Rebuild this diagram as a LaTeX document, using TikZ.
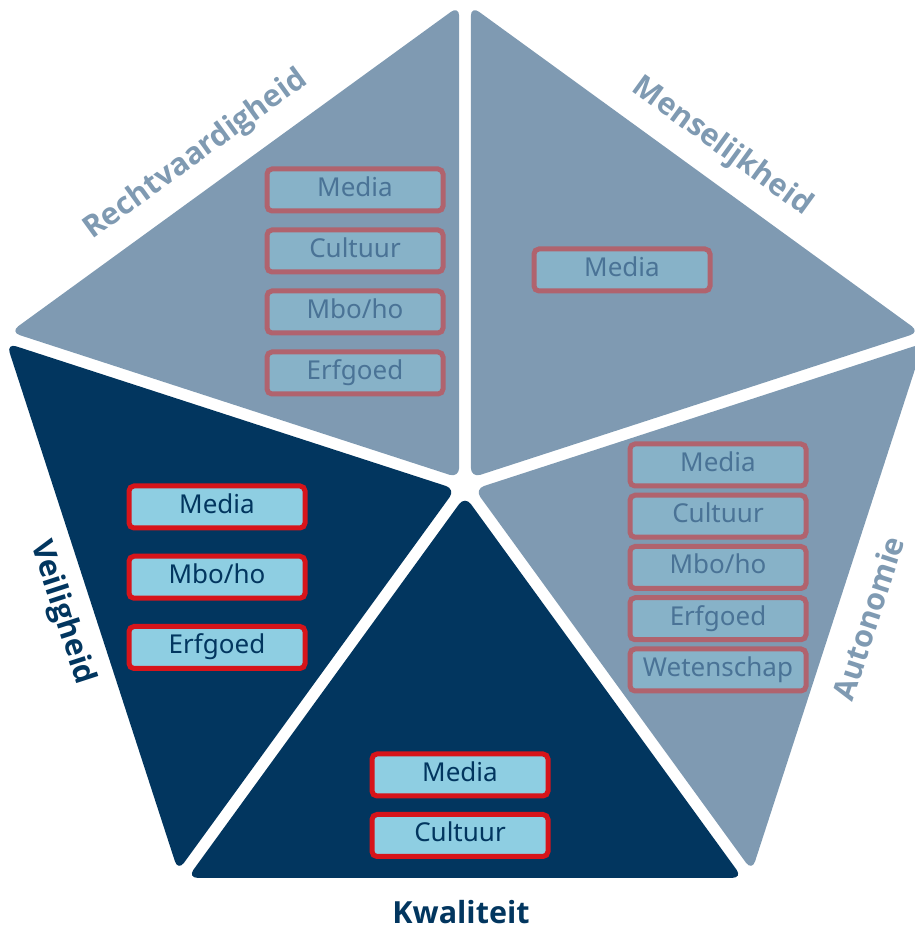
\documentclass[tikz,border=0pt]{standalone}
\usepackage{fontspec}
\setmainfont{Noto Sans}
\newfontfamily\labelfont{Open Sans}
\definecolor{slicelight}{HTML}{7F9AB2}
\definecolor{slicedark}{HTML}{02365F}
\definecolor{boxfill}{HTML}{8ECEE2}
\definecolor{boxred}{HTML}{D7141A}
\definecolor{fadefill}{HTML}{87B2C8}
\definecolor{fadered}{HTML}{B0636E}
\definecolor{fadetext}{HTML}{4A7396}
\tikzset{
  darkbox/.style={draw=boxred, fill=boxfill, text=slicedark, line width=5pt, rounded corners=5pt,
    minimum width=176pt, minimum height=42pt, inner sep=0pt, text height=18pt, text depth=5pt,
    font=\fontsize{26}{26}\selectfont},
  fadebox/.style={darkbox, draw=fadered, fill=fadefill, text=fadetext},
  sidelabel/.style={font=\labelfont\fontsize{30.5}{30.5}\selectfont\bfseries, inner sep=0pt}
}
\begin{document}
\begin{tikzpicture}[x=1pt, y=1pt]
\useasboundingbox (0,0) rectangle (914,929);
% the five slices, each pushed a little out of the centre
\begin{scope}[shift={(465,443)}]
\foreach \a/\col in {90/slicelight, 162/slicedark, 234/slicedark, 306/slicelight, 18/slicelight}
  \fill[\col, shift={({\a+36}:10)}, rounded corners=10pt] (0,0) -- (\a:472) -- ({\a+72}:472) -- cycle;
\end{scope}

% labels along the outer edges
\node[sidelabel, text=slicelight, rotate=36] (rvlab) at (196,774) {Rechtvaardigheid};
\node[sidelabel, text=slicelight, rotate=-36] (mklab) at (722,782) {Menselijkheid};
\node[sidelabel, text=slicelight, rotate=72] (aulab) at (868,311) {Autonomie};
\node[sidelabel, text=slicedark, rotate=-72] (vhlab) at (62,316) {Veiligheid};
\node[sidelabel, text=slicedark] (kwlab) at (461,17) {Kwaliteit};

% boxes
\foreach \t [count=\i] in {Media, Cultuur, {Mbo/ho}, Erfgoed}
  \node[fadebox] (rv\i) at (355,{739-61*(\i-1)}) {\t};
\node[fadebox] (mk1) at (622,659) {Media};
\foreach \t [count=\i] in {Media, Cultuur, {Mbo/ho}, Erfgoed, Wetenschap}
  \node[fadebox] (au\i) at (718,{464-51.25*(\i-1)}) {\t};
\foreach \t [count=\i] in {Media, {Mbo/ho}, Erfgoed}
  \node[darkbox] (vh\i) at (217,{422-70.25*(\i-1)}) {\t};
\foreach \t [count=\i] in {Media, Cultuur}
  \node[darkbox] (kw\i) at (460,{154-60.5*(\i-1)}) {\t};
\end{tikzpicture}
\end{document}
